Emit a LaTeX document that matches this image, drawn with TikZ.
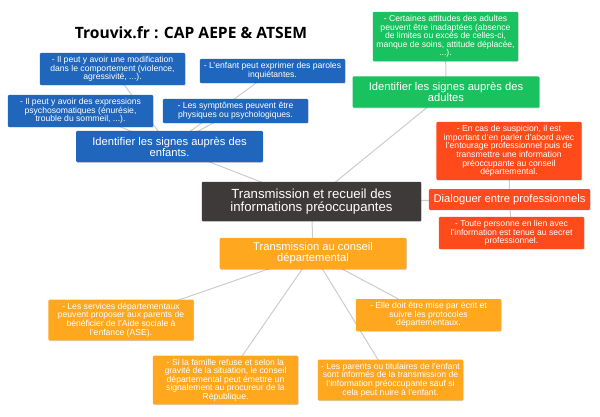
\documentclass[tikz,border=0pt]{standalone}
\usepackage{fontspec}
\setmainfont{Liberation Sans}
\newfontfamily\titlefont{Open Sans}
\usetikzlibrary{backgrounds,shadows}

\definecolor{blueBox}{HTML}{2166BD}
\definecolor{greenBox}{HTML}{19C25F}
\definecolor{redBox}{HTML}{FF4A1C}
\definecolor{orangeBox}{HTML}{FFA81F}
\definecolor{darkBox}{HTML}{3E3A39}
\definecolor{linkGrey}{HTML}{CCCCCC}

\tikzset{every picture/.style={line width=0.75pt}}
\tikzset{
	box/.style={rounded corners=0.8pt,text=white,align=center,inner sep=0pt,
		drop shadow={shadow xshift=0.4pt,shadow yshift=-0.5pt,fill=black,opacity=0.18}},
	leaf/.style={box,font=\fontsize{6.45}{6.45}\selectfont},
	branch/.style={box,font=\fontsize{8.4}{8.3}\selectfont},
	link/.style={draw=linkGrey,line width=0.75pt},
}

\begin{document}
\begin{tikzpicture}[x=0.75pt,y=0.75pt,yscale=-1,xscale=1]
	\useasboundingbox (0,0) rectangle (600,417);
	% Title
	\node (title) at (191,33) {\titlefont\bfseries\fontsize{11.7}{13}\selectfont Trouvix.fr : CAP AEPE \& ATSEM};

	% Central node
	\node[box,font=\fontsize{9.9}{10}\selectfont,fill=darkBox,minimum width=164.5pt,minimum height=29.5pt] (central) at (311.5,201.5) {Transmission et recueil des\\informations préoccupantes};

	% Children
	\node[branch,fill=blueBox,minimum width=140pt,minimum height=23.5pt] (enfants) at (169.5,146.5) {Identifier les signes auprès des\\enfants.};
	\node[branch,fill=greenBox,minimum width=140pt,minimum height=23.5pt] (adultes) at (446,92) {Identifier les signes auprès des\\adultes};
	\node[branch,fill=redBox,minimum width=121pt,minimum height=15.5pt] (pros) at (509.5,199.5) {Dialoguer entre professionnels};
	\node[branch,fill=orangeBox,minimum width=140pt,minimum height=23.5pt] (conseil) at (313,253.5) {Transmission au conseil\\départemental};

	% Blue leaves
	\node[leaf,fill=blueBox,minimum width=109pt,minimum height=24pt] (comportement) at (112.5,69) {- Il peut y avoir une modification\\dans le comportement (violence,\\agressivité, ...).};
	\node[leaf,fill=blueBox,minimum width=109pt,minimum height=18pt] (paroles) at (272.5,71) {- L'enfant peut exprimer des paroles\\inquiétantes.};
	\node[leaf,fill=blueBox,minimum width=109pt,minimum height=24pt] (psycho) at (80.5,111) {- Il peut y avoir des expressions\\psychosomatiques (énurésie,\\trouble du sommeil, ...).};
	\node[leaf,fill=blueBox,minimum width=109pt,minimum height=18pt] (symptomes) at (235.5,111) {- Les symptômes peuvent être\\physiques ou psychologiques.};

	% Green leaf
	\node[leaf,fill=greenBox,minimum width=109pt,minimum height=37pt] (attitudes) at (445.5,36.5) {- Certaines attitudes des adultes\\peuvent être inadaptées (absence\\de limites ou excès de celles-ci,\\manque de soins, attitude déplacée,\\...).};

	% Red leaves
	\node[leaf,fill=redBox,minimum width=109pt,minimum height=43.5pt] (suspicion) at (509,151) {- En cas de suspicion, il est\\important d'en parler d'abord avec\\l'entourage professionnel puis de\\transmettre une information\\préoccupante au conseil\\départemental.};
	\node[leaf,fill=redBox,minimum width=109pt,minimum height=24pt] (secret) at (511.5,233) {- Toute personne en lien avec\\l'information est tenue au secret\\professionnel.};

	% Orange leaves
	\node[leaf,fill=orangeBox,minimum width=109pt,minimum height=30.5pt] (services) at (121,320) {- Les services départementaux\\peuvent proposer aux parents de\\bénéficier de l'Aide sociale à\\l'enfance (ASE).};
	\node[leaf,fill=orangeBox,minimum width=109pt,minimum height=36.5pt] (famille) at (225.5,380) {- Si la famille refuse et selon la\\gravité de la situation, le conseil\\départemental peut émettre un\\signalement au procureur de la\\République.};
	\node[leaf,fill=orangeBox,minimum width=109pt,minimum height=24pt] (ecrit) at (428.5,315) {- Elle doit être mise par écrit et\\suivre les protocoles\\départementaux.};
	\node[leaf,fill=orangeBox,minimum width=109pt,minimum height=30.5pt] (parents) at (390.5,380) {- Les parents ou titulaires de l'enfant\\sont informés de la transmission de\\l'information préoccupante sauf si\\cela peut nuire à l'enfant.};

	% Straight Lines
	\begin{scope}[on background layer]
		\draw[link] (central.center) -- (enfants.center);
		\draw[link] (central.center) -- (adultes.center);
		\draw[link] (central.center) -- (pros.center);
		\draw[link] (central.center) -- (conseil.center);
		\draw[link] (enfants.center) -- (comportement.center);
		\draw[link] (enfants.center) -- (paroles.center);
		\draw[link] (enfants.center) -- (psycho.center);
		\draw[link] (enfants.center) -- (symptomes.center);
		\draw[link] (adultes.center) -- (attitudes.center);
		\draw[link] (pros.center) -- (suspicion.center);
		\draw[link] (pros.center) -- (secret.center);
		\draw[link] (conseil.center) -- (services.center);
		\draw[link] (conseil.center) -- (famille.center);
		\draw[link] (conseil.center) -- (ecrit.center);
		\draw[link] (conseil.center) -- (parents.center);
	\end{scope}
\end{tikzpicture}
\end{document}
